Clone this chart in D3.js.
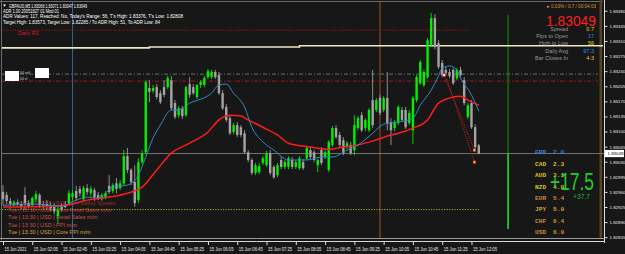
<!DOCTYPE html>
<html>
<head>
<meta charset="utf-8">
<script src="https://cdn.jsdelivr.net/npm/d3@7"></script>
<style>
  body { margin: 0; background: #171717; }
  svg { display: block; }
  text { font-family: "Liberation Sans", Arial, sans-serif; }
</style>
</head>
<body>
<div id="chart"></div>
<script>
// GBPAUD M5 candles, 15 Jun 2021 01:25 .. 12:15 (131 bars)
const open = [1.82960,1.82953,1.82939,1.82929,1.82936,1.82932,1.82953,1.82934,1.82929,1.82943,
  1.82953,1.82929,1.82932,1.82929,1.82925,1.82904,1.82927,1.82929,1.82934,1.82948,
  1.82962,1.82967,1.82943,1.82969,1.82957,1.82964,1.82953,1.82943,1.82948,1.82974,
  1.82962,1.82980,1.82969,1.82980,1.83043,1.83011,1.82983,1.82941,1.83029,1.83052,
  1.83201,1.83194,1.83203,1.83189,1.83203,1.83203,1.83219,1.83166,1.83138,1.83154,
  1.83138,1.83210,1.83203,1.83180,1.83208,1.83208,1.83226,1.83226,1.83238,1.83231,
  1.83189,1.83157,1.83131,1.83099,1.83115,1.83110,1.83096,1.83052,1.83034,1.83004,
  1.83006,1.83027,1.83022,1.83050,1.83018,1.82999,1.83034,1.83018,1.83018,1.83034,
  1.83018,1.83015,1.83029,1.83038,1.83057,1.83052,1.83022,1.83057,1.83041,1.83011,
  1.83069,1.83108,1.83092,1.83080,1.83064,1.83069,1.83057,1.83108,1.83138,1.83108,
  1.83103,1.83173,1.83150,1.83178,1.83150,1.83178,1.83122,1.83108,1.83120,1.83150,
  1.83150,1.83120,1.83103,1.83173,1.83212,1.83208,1.83226,1.83301,1.83363,1.83305,
  1.83259,1.83243,1.83238,1.83243,1.83224,1.83243,1.83219,1.83134,1.83166,1.83110,
  1.83068];
const high = [1.82976,1.82960,1.82946,1.82941,1.82943,1.82939,1.82971,1.82941,1.82950,1.82962,
  1.82957,1.82939,1.82941,1.82936,1.82934,1.82925,1.82934,1.82939,1.82964,1.82964,
  1.82974,1.82974,1.82974,1.82978,1.82974,1.82969,1.82960,1.82957,1.82962,1.82999,
  1.82980,1.82992,1.82987,1.83057,1.83062,1.83015,1.83022,1.83038,1.83057,1.83219,
  1.83219,1.83208,1.83210,1.83196,1.83219,1.83229,1.83229,1.83173,1.83159,1.83159,
  1.83206,1.83226,1.83210,1.83210,1.83219,1.83229,1.83245,1.83243,1.83243,1.83238,
  1.83196,1.83164,1.83138,1.83120,1.83122,1.83115,1.83103,1.83057,1.83038,1.83027,
  1.83027,1.83043,1.83055,1.83057,1.83022,1.83027,1.83041,1.83034,1.83043,1.83041,
  1.83034,1.83043,1.83036,1.83066,1.83064,1.83057,1.83038,1.83064,1.83057,1.83080,
  1.83113,1.83115,1.83099,1.83087,1.83078,1.83076,1.83138,1.83136,1.83145,1.83131,
  1.83154,1.83243,1.83178,1.83185,1.83182,1.83238,1.83131,1.83127,1.83161,1.83157,
  1.83157,1.83150,1.83182,1.83231,1.83266,1.83243,1.83317,1.83375,1.83372,1.83312,
  1.83266,1.83250,1.83245,1.83247,1.83247,1.83250,1.83226,1.83166,1.83173,1.83117,
  1.83071];
const low = [1.82929,1.82932,1.82925,1.82925,1.82927,1.82920,1.82918,1.82922,1.82927,1.82936,
  1.82922,1.82920,1.82920,1.82915,1.82908,1.82888,1.82915,1.82922,1.82929,1.82941,
  1.82939,1.82950,1.82939,1.82953,1.82950,1.82939,1.82941,1.82939,1.82943,1.82955,
  1.82957,1.82957,1.82964,1.82976,1.83004,1.82976,1.82925,1.82934,1.83025,1.83048,
  1.83168,1.83189,1.83175,1.83164,1.83180,1.83198,1.83150,1.83129,1.83131,1.83129,
  1.83134,1.83178,1.83185,1.83175,1.83201,1.83203,1.83222,1.83222,1.83222,1.83185,
  1.83150,1.83122,1.83092,1.83094,1.83087,1.83087,1.83048,1.83029,1.82999,1.82999,
  1.83001,1.83022,1.83018,1.82999,1.82990,1.82994,1.83013,1.83013,1.83013,1.83013,
  1.83013,1.83011,1.83011,1.83034,1.83036,1.83029,1.83006,1.83022,1.83036,1.83006,
  1.83064,1.83083,1.83064,1.83045,1.83059,1.83045,1.83045,1.83103,1.83099,1.83101,
  1.83099,1.83108,1.83145,1.83138,1.83145,1.83103,1.83069,1.83101,1.83115,1.83122,
  1.83106,1.83115,1.83071,1.83168,1.83208,1.83203,1.83222,1.83296,1.83291,1.83245,
  1.83226,1.83231,1.83224,1.83208,1.83219,1.83226,1.83161,1.83129,1.83106,1.83059,
  1.83047];
const close = [1.82943,1.82939,1.82932,1.82936,1.82932,1.82927,1.82934,1.82927,1.82946,1.82955,
  1.82929,1.82925,1.82927,1.82922,1.82915,1.82918,1.82920,1.82925,1.82957,1.82957,
  1.82946,1.82957,1.82969,1.82960,1.82967,1.82948,1.82946,1.82953,1.82957,1.82960,
  1.82976,1.82967,1.82980,1.83043,1.83011,1.82983,1.82934,1.83029,1.83048,1.83215,
  1.83192,1.83201,1.83180,1.83168,1.83185,1.83224,1.83154,1.83134,1.83154,1.83136,
  1.83203,1.83185,1.83189,1.83208,1.83215,1.83224,1.83240,1.83238,1.83226,1.83189,
  1.83154,1.83127,1.83096,1.83115,1.83092,1.83092,1.83052,1.83034,1.83004,1.83022,
  1.83020,1.83038,1.83050,1.83004,1.82994,1.83022,1.83018,1.83029,1.83038,1.83018,
  1.83029,1.83038,1.83015,1.83062,1.83041,1.83034,1.83034,1.83027,1.83052,1.83076,
  1.83108,1.83087,1.83069,1.83050,1.83073,1.83050,1.83115,1.83131,1.83103,1.83127,
  1.83150,1.83115,1.83173,1.83143,1.83178,1.83120,1.83103,1.83120,1.83157,1.83127,
  1.83110,1.83143,1.83178,1.83226,1.83261,1.83238,1.83312,1.83363,1.83296,1.83250,
  1.83231,1.83236,1.83229,1.83212,1.83243,1.83231,1.83166,1.83161,1.83110,1.83064,
  1.83049];

// moving averages: [bar, price]
const fastMA = [[0,1.82929],[8,1.82932],[16,1.82927],[20,1.82941],[23,1.82948],[26,1.82946],[30,1.82971],
  [34,1.82976],[37,1.82999],[39,1.83041],[41,1.83085],[43,1.83115],[46,1.83150],[48,1.83150],
  [51,1.83166],[54,1.83175],[57,1.83189],[59,1.83208],[61,1.83210],[63,1.83189],[66,1.83157],
  [68,1.83110],[71,1.83076],[74,1.83057],[78,1.83034],[83,1.83034],[87,1.83041],[90,1.83041],
  [94,1.83057],[97,1.83069],[101,1.83096],[104,1.83117],[108,1.83122],[112,1.83131],[114,1.83161],
  [117,1.83196],[119,1.83229],[120,1.83247],[122,1.83252],[124,1.83243],[125,1.83224],
  [128,1.83185],[130,1.83147]];
const slowMA = [[0,1.82925],[13,1.82927],[17,1.82929],[23,1.82941],[29,1.82948],[34,1.82957],
  [38,1.82971],[42,1.83011],[46,1.83050],[51,1.83073],[56,1.83099],[59,1.83127],[62,1.83138],
  [65,1.83136],[67,1.83127],[71,1.83110],[75,1.83092],[78,1.83073],[84,1.83064],[89,1.83059],
  [93,1.83064],[97,1.83069],[101,1.83078],[106,1.83092],[108,1.83096],[112,1.83108],[116,1.83127],
  [119,1.83166],[123,1.83180],[125,1.83182],[127,1.83173],[130,1.83161]];

// zigzag projections
const zigA = [[120.5,1.83231],[128.8,1.83057]];
const zigB = [[121.3,1.83222],[128.8,1.83029]];

// axis ticks
const tickBars = [0,8,16,24,32,40,48,56,64,72,80,88,96,104,112,120,128];
const tickLabels = ["15 Jun 2021","15 Jun 02:05","15 Jun 02:45","15 Jun 03:25","15 Jun 04:05",
  "15 Jun 04:45","15 Jun 05:25","15 Jun 06:05","15 Jun 06:45","15 Jun 07:25","15 Jun 08:05",
  "15 Jun 08:45","15 Jun 09:25","15 Jun 10:05","15 Jun 10:45","15 Jun 11:25","15 Jun 12:05"];
const priceTicks = [1.83380,1.83345,1.83310,1.83275,1.83240,1.83205,1.83170,1.83135,1.83100,
  1.83065,1.83030,1.82995,1.82960,1.82925,1.82890,1.82855];

// horizontal levels
const r1Level = 1.83335;
const pivotGray = 1.83233;
const pivotRed = 1.83217;
const lowTarget = 1.82919;
const bid = 1.83049;
const highStepBars = [0, 40, 81];
const highStepPrices = [1.83294, 1.83296, 1.83299];
// vertical lines (bar index)
const vBars = [19, 103, 138];

// panels
const header = ["GBPAUD,M5  1.83068 1.83071 1.83047 1.83049",
  "ADR 1.00 20051827 01 Mod 01",
  "ADR Values: 117, Reached: No, Today's Range: 56, T's High: 1.83376, T's Low: 1.82808",
  "Target High: 1.83573, Target Low: 1.82285 / To ADR High: 51, To ADR Low: 84"];
const infoLabels = ["Spread","Pips to Open","High to Low","Daily Avg","Bar Closes In"];
const infoValues = ["0.7","17","56","97.3","4:3"];
const currencies = ["GBP","CAD","AUD","NZD","EUR","JPY","CHF","USD"];
const strength = [2.0,2.3,3.1,4.0,5.4,5.9,6.4,6.9];
const calTime = ["12:00","13:30","13:30","13:30","13:30"];
const calCur = ["GBP","USD","USD","USD","USD"];
const calEvent = ["BOE Gov Bailey Speaks","Core Retail Sales m/m","Retail Sales m/m","PPI m/m","Core PPI m/m"];

// ---------------------------------------------------------------
const W = 625, H = 254;
const svg = d3.select("#chart").append("svg").attr("width", W).attr("height", H);
svg.append("rect").attr("width", W).attr("height", H).attr("fill", "#171717");

const x = d3.scaleLinear().domain([0, 130]).range([3, 478.8]);
const y = d3.scaleLinear().domain([1.82855, 1.83380]).range([237.2, 10.8]);
const right = 603;

function txt(s, px, py, o) {
  o = o || {};
  const t = svg.append("text").attr("x", px).attr("y", py).text(s)
    .attr("font-size", o.size || 5).attr("fill", o.fill || "#fff")
    .attr("text-anchor", o.anchor || "start");
  if (o.family) t.style("font-family", o.family);
  if (o.weight) t.attr("font-weight", o.weight);
  if (o.len) t.attr("textLength", o.len).attr("lengthAdjust", "spacingAndGlyphs");
  return t;
}

// frame
svg.append("line").attr("x1", 0).attr("x2", right).attr("y1", 1.5).attr("y2", 1.5).attr("stroke", "#6a6a6a");
svg.append("line").attr("x1", 1.5).attr("x2", 1.5).attr("y1", 0).attr("y2", 240).attr("stroke", "#6a6a6a");
svg.append("rect").attr("x", 599.5).attr("y", 0).attr("width", 2.5).attr("height", 239).attr("fill", "#54471f");

// calendar text (behind candles)
const calColors = ["#9c2a2a", "#c03232", "#cc5046", "#d0503c", "#dca040"];
calEvent.forEach((e, i) => {
  txt(`Tue  |  ${calTime[i]}  |  ${calCur[i]}  |  ${e}`, 8, 205 + i * 7.2,
    { size: 5.5, fill: calColors[i] });
});

// vertical lines
svg.append("line").attr("x1", x(vBars[0])).attr("x2", x(vBars[0])).attr("y1", 2).attr("y2", 238)
  .attr("stroke", "#3a7ab8").attr("stroke-width", 0.8);
svg.append("line").attr("x1", x(vBars[1])).attr("x2", x(vBars[1])).attr("y1", 2).attr("y2", 238)
  .attr("stroke", "#c0642e").attr("stroke-width", 0.8);
svg.append("line").attr("x1", x(vBars[2])).attr("x2", x(vBars[2])).attr("y1", 15).attr("y2", y(bid))
  .attr("stroke", "#0c9a0c").attr("stroke-width", 1);
svg.append("line").attr("x1", x(vBars[2])).attr("x2", x(vBars[2])).attr("y1", y(bid)).attr("y2", 229)
  .attr("stroke", "#22e022").attr("stroke-width", 1.6);

// horizontal levels
svg.append("line").attr("x1", 2).attr("x2", 470).attr("y1", y(r1Level)).attr("y2", y(r1Level))
  .attr("stroke", "#a01818").attr("stroke-dasharray", "1.2,1.4");
txt("Daily R1", 18, y(r1Level) + 5, { size: 5.5, fill: "#d02020" });

const stepPts = [];
highStepBars.forEach((b, i) => {
  const x0 = i === 0 ? 2 : x(b);
  const x1 = i < highStepBars.length - 1 ? x(highStepBars[i + 1]) : right;
  stepPts.push([x0, y(highStepPrices[i])], [x1, y(highStepPrices[i])]);
});
svg.append("path").attr("d", d3.line()(stepPts)).attr("fill", "none")
  .attr("stroke", "#efe4c4").attr("stroke-width", 1.6);

svg.append("line").attr("x1", 2).attr("x2", 598).attr("y1", y(pivotGray)).attr("y2", y(pivotGray))
  .attr("stroke", "#5c5c5c").attr("stroke-width", 1.2).attr("stroke-dasharray", "4,2,1,2");
svg.append("line").attr("x1", 2).attr("x2", 598).attr("y1", y(pivotRed)).attr("y2", y(pivotRed))
  .attr("stroke", "#b01c1c").attr("stroke-width", 0.9).attr("stroke-dasharray", "4,2,1,2");
svg.append("line").attr("x1", 2).attr("x2", x(130)).attr("y1", y(lowTarget)).attr("y2", y(lowTarget))
  .attr("stroke", "#c8c020").attr("stroke-width", 0.9).attr("stroke-dasharray", "1.2,1.4");
svg.append("line").attr("x1", 2).attr("x2", 604).attr("y1", y(bid)).attr("y2", y(bid))
  .attr("stroke", "#8a8a8a").attr("stroke-width", 0.8);

// small white trade labels
svg.append("rect").attr("x", 5).attr("y", 71).attr("width", 14).attr("height", 10).attr("fill", "#fff");
svg.append("rect").attr("x", 35).attr("y", 68).attr("width", 14).attr("height", 10).attr("fill", "#fff");
txt("64 sell", 20, 74, { size: 3.5, fill: "#ccc" });
txt("64 sl", 20, 80, { size: 3.5, fill: "#ccc" });

// candles
const bars = d3.range(open.length).map(i => ({ i, o: open[i], h: high[i], l: low[i], c: close[i] }));
const cg = svg.append("g");
cg.selectAll("line").data(bars).join("line")
  .attr("x1", d => x(d.i)).attr("x2", d => x(d.i))
  .attr("y1", d => y(d.h)).attr("y2", d => y(d.l))
  .attr("stroke", d => d.c >= d.o ? "#00e600" : "#9a9a9a").attr("stroke-width", 0.9);
cg.selectAll("rect").data(bars).join("rect")
  .attr("x", d => x(d.i) - 1.2).attr("width", 2.4)
  .attr("y", d => y(Math.max(d.o, d.c)))
  .attr("height", d => Math.max(0.8, Math.abs(y(d.o) - y(d.c))))
  .attr("fill", d => d.c >= d.o ? "#00f000" : "#a4a4a4");

// moving averages
const maLine = d3.line().x(d => x(d[0])).y(d => y(d[1])).curve(d3.curveMonotoneX);
svg.append("path").attr("d", maLine(slowMA)).attr("fill", "none").attr("stroke", "#ff1c1c").attr("stroke-width", 1.5);
svg.append("path").attr("d", maLine(fastMA)).attr("fill", "none").attr("stroke", "#2f8ac6").attr("stroke-width", 1);

// zigzag projections
[zigA, zigB].forEach(z => {
  svg.append("path").attr("d", d3.line().x(d => x(d[0])).y(d => y(d[1]))(z))
    .attr("fill", "none").attr("stroke", "#d02020").attr("stroke-width", 0.9).attr("stroke-dasharray", "1,1");
  svg.append("rect").attr("x", x(z[1][0]) - 1.3).attr("y", y(z[1][1]) - 1.3).attr("width", 2.6).attr("height", 2.6)
    .attr("fill", "#f4c040").attr("stroke", "#d02020").attr("stroke-width", 0.5);
});
svg.append("circle").attr("cx", x(zigA[0][0])).attr("cy", y(zigA[0][1])).attr("r", 1.6)
  .attr("fill", "#fff").attr("stroke", "#e02020").attr("stroke-width", 0.9);

// price axis
const ya = svg.append("g").attr("transform", `translate(604.5,0)`)
  .call(d3.axisRight(y).tickValues(priceTicks).tickSize(3).tickPadding(2).tickFormat(d3.format(".5f")));
ya.select(".domain").attr("stroke", "#ddd").attr("d", "M0,0V243");
ya.selectAll(".tick line").attr("stroke", "#ddd");
ya.selectAll(".tick text").attr("fill", "#e8e8e8").attr("font-size", 4.4).style("font-family", "Liberation Sans, Arial");
svg.append("rect").attr("x", 605).attr("y", y(bid) - 3.6).attr("width", 19).attr("height", 7.2).attr("fill", "#fff");
txt(d3.format(".5f")(bid), 607.5, y(bid) + 1.6, { size: 4.4, fill: "#000" });

// bottom frame + time axis
svg.append("line").attr("x1", 0).attr("x2", right + 1).attr("y1", 238.5).attr("y2", 238.5).attr("stroke", "#9a9a9a");
svg.append("line").attr("x1", 0).attr("x2", right + 1).attr("y1", 241.5).attr("y2", 241.5).attr("stroke", "#d8d8d8");
const xa = svg.append("g").attr("transform", "translate(0,242)")
  .call(d3.axisBottom(x).tickValues(tickBars).tickSize(3).tickPadding(3).tickFormat((d, i) => tickLabels[i]));
xa.select(".domain").remove();
xa.selectAll(".tick line").attr("stroke", "#ddd");
xa.selectAll(".tick text").attr("fill", "#e8e8e8").attr("font-size", 4.6).attr("text-anchor", "start")
  .attr("dx", 1).attr("textLength", (d, i) => i === 0 ? 22 : 24).attr("lengthAdjust", "spacingAndGlyphs");

// header text
const headerLen = [78, 56, 180, 157];
const headerSize = [4.6, 4.6, 5, 5];
svg.append("path").attr("d", "M3,4.5 L6,4.5 L4.5,6.8 Z").attr("fill", "#fff");
txt(header[0], 9, 7.5, { size: headerSize[0], len: headerLen[0] });
header.slice(1).forEach((h, i) => txt(h, 3, 13 + i * 5.4, { size: headerSize[i + 1], len: headerLen[i + 1] }));

// info panel
txt("\u25B8 0.03% / 0.7 / 00:04:03", 596, 7.5, { size: 4.6, fill: "#d89a2a", anchor: "end" });
txt(d3.format(".5f")(bid), 596, 25.5, { size: 15.5, fill: "#ff2020", anchor: "end", len: 50 });
const infoColors = ["#e8d010", "#1e8cff", "#e8d010", "#1e8cff", "#e8d010"];
infoLabels.forEach((l, i) => {
  const yy = 30.9 + i * 7.2;
  txt(l, 568, yy, { size: 5.5, fill: "#9a9a9a", anchor: "end" });
  txt(infoValues[i], 594, yy, { size: 5.5, fill: infoColors[i], anchor: "end" });
});

// currency strength
const curColors = ["#3c82cc", "#d8c020", "#d8c020", "#d8c020", "#c48a30", "#d0a228", "#c48a30", "#c48a30"];
currencies.forEach((c, i) => {
  const yy = 154.3 + i * 11.4;
  txt(c, 535, yy, { size: 6.2, fill: curColors[i], weight: "bold", family: "Liberation Mono, monospace" });
  txt(d3.format(".1f")(strength[i]), 553, yy, { size: 6.2, fill: curColors[i], weight: "bold", family: "Liberation Mono, monospace" });
});
txt("+17.5", 594, 190, { size: 24, fill: "#22cc33", anchor: "end", len: 44 });
txt("+37.7", 590, 199, { size: 7, fill: "#22bb33", anchor: "end", len: 17 });
</script>
</body>
</html>
